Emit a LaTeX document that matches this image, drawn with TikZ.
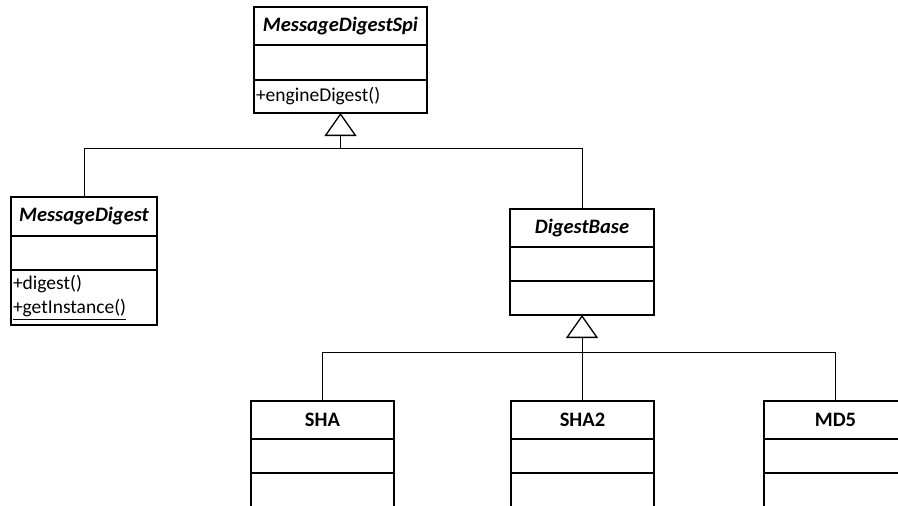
\documentclass[tikz,border=0pt]{standalone}
\usepackage{fontspec}
\setmainfont{Carlito}
\usetikzlibrary{arrows.meta}
\begin{document}
\begin{tikzpicture}[x=1pt, y=-1pt,
  every node/.style={font=\fontsize{19.5}{24}\selectfont},
  comp/.style={draw, line width=1.4pt, anchor=north west, inner sep=0pt, outer sep=0pt},
  title/.style={comp, font=\fontsize{20.5}{24}\selectfont\bfseries},
  members/.style={comp, inner xsep=2pt, align=left},
  conn/.style={line width=1pt},
  inherit/.style={conn, -{Triangle[open, length=23pt, width=32pt, line width=1.3pt]}}]
\clip (0,0) rectangle (898,506);

% MessageDigestSpi
\node[title, minimum width=173pt, minimum height=38pt] (spi) at (254,7) {\itshape MessageDigestSpi};
\node[members, text width=169pt, minimum height=35pt] (spiA) at (spi.south west) {};
\node[members, text width=169pt, minimum height=33pt] (spiB) at (spiA.south west) {+engineDigest()};

% MessageDigest
\node[title, minimum width=146pt, minimum height=39pt] (md) at (11,197) {\itshape MessageDigest};
\node[members, text width=142pt, minimum height=34pt] (mdA) at (md.south west) {};
\node[members, text width=142pt, minimum height=55pt] (mdB) at (mdA.south west) {+digest()\\\underline{+getInstance()}};

% DigestBase
\node[title, minimum width=144pt, minimum height=38pt] (db) at (510,209) {\itshape DigestBase};
\node[members, text width=140pt, minimum height=34pt] (dbA) at (db.south west) {};
\node[members, text width=140pt, minimum height=34pt] (dbB) at (dbA.south west) {};

% SHA
\node[title, minimum width=143pt, minimum height=38pt] (sha) at (251,401) {SHA};
\node[members, text width=139pt, minimum height=34pt] (shaA) at (sha.south west) {};
\node[members, text width=139pt, minimum height=50pt] (shaB) at (shaA.south west) {};

% SHA2
\node[title, minimum width=143pt, minimum height=38pt] (sha2) at (511,401) {SHA2};
\node[members, text width=139pt, minimum height=34pt] (sha2A) at (sha2.south west) {};
\node[members, text width=139pt, minimum height=50pt] (sha2B) at (sha2A.south west) {};

% MD5
\node[title, minimum width=143pt, minimum height=38pt] (md5) at (764,401) {MD5};
\node[members, text width=139pt, minimum height=34pt] (md5A) at (md5.south west) {};
\node[members, text width=139pt, minimum height=50pt] (md5B) at (md5A.south west) {};

% generalisation connectors
\coordinate (lvl1) at (0,148);
\coordinate (lvl2) at (0,352);
\coordinate (j1) at (spiB.south |- lvl1);
\coordinate (j2) at (dbB.south |- lvl2);

\draw[conn] (md.north) |- (j1);
\draw[conn] (db.north) |- (j1);
\draw[inherit] (j1) -- (spiB.south);

\draw[conn] (sha.north) |- (j2);
\draw[conn] (md5.north) |- (j2);
\draw[conn] (j2 |- sha2.north) -- (j2);
\draw[inherit] (j2) -- (dbB.south);
\end{tikzpicture}
\end{document}
